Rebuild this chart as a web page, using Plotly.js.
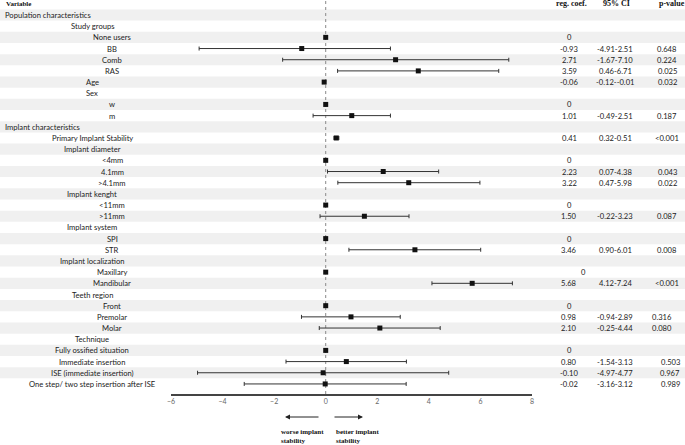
<!DOCTYPE html>
<html><head><meta charset="utf-8">
<script src="https://cdn.plot.ly/plotly-3.0.1.min.js"></script>
<style>html,body{margin:0;padding:0;background:#fff}#chart{width:685px;height:445px}</style>
</head><body><div id="chart"></div>
<script>
const rowLabels = ["Population characteristics","Study groups","None users","BB","Comb","RAS","Age","Sex","w","m","Implant characteristics","Primary Implant Stability","Implant diameter","<4mm","4.1mm",">4.1mm","Implant kenght","<11mm",">11mm","Implant system","SPI","STR","Implant localization","Maxillary","Mandibular","Teeth region","Front","Premolar","Molar","Technique","Fully ossified situation","Immediate insertion","ISE (immediate insertion)","One step/ two step insertion after ISE"];
const rowLevels = [1,2,3,3,3,3,2,2,3,3,1,2,2,3,3,3,2,3,3,2,3,3,2,3,3,2,3,3,3,2,2,2,2,2];
const regCoef = [null,null,0,-0.93,2.71,3.59,-0.06,null,0,1.01,null,0.41,null,0,2.23,3.22,null,0,1.50,null,0,3.46,null,0,5.68,null,0,0.98,2.10,null,0,0.80,-0.10,-0.02];
const ciLow  = [null,null,null,-4.91,-1.67,0.46,-0.12,null,null,-0.49,null,0.32,null,null,0.07,0.47,null,null,-0.22,null,null,0.90,null,null,4.12,null,null,-0.94,-0.25,null,null,-1.54,-4.97,-3.16];
const ciHigh = [null,null,null,2.51,7.10,6.71,-0.01,null,null,2.51,null,0.51,null,null,4.38,5.98,null,null,3.23,null,null,6.01,null,null,7.24,null,null,2.89,4.44,null,null,3.13,4.77,3.12];
const pValues = ["","","","0.648","0.224","0.025","0.032","","","0.187","","<0.001","","","0.043","0.022","","","0.087","","","0.008","","","<0.001","","","0.316","0.080","","","0.503","0.967","0.989"];
const xTicks = [-6,-4,-2,0,2,4,6,8];
const colHeaders = ["reg. coef.","95% CI","p-value"];

const W = 685, H = 445;
const rowIdx = rowLabels.map((_, i) => i + 1);
const pts = rowIdx.map((r, i) => regCoef[i] === null ? null : r);

const shapes = [];
rowIdx.forEach((r, i) => {
  if (r % 2 === 1) shapes.push({type:'rect', layer:'below', xref:'paper', x0:0, x1:1, yref:'y', y0:r-0.5, y1:r+0.5, fillcolor:'#f0f0f0', line:{width:0}});
});
shapes.push({type:'line', layer:'below', xref:'x', x0:0, x1:0, yref:'y', y0:-0.25, y1:34.9, line:{color:'#888', width:1, dash:'dot'}});

const ann = [];
const labFont = {family:'Lato, "Open Sans", sans-serif', size:7.6, color:'#222'};
rowLabels.forEach((t, i) => {
  const r = i + 1, lv = rowLevels[i];
  if (lv === 1) ann.push({xref:'paper', x:3/W, xanchor:'left', yref:'y', y:r, text:t, showarrow:false, font:labFont});
  else ann.push({xref:'paper', x:(lv === 2 ? 92 : 112)/W, xanchor:'center', yref:'y', y:r, text:t, showarrow:false, font:labFont});
  if (regCoef[i] !== null) {
    const v = regCoef[i];
    const isRef = ciLow[i] === null;
    const cx = (t === 'Maxillary') ? 583 : 569;
    ann.push({xref:'paper', x:cx/W, xanchor:'center', yref:'y', y:r, text: isRef ? '0' : v.toFixed(2), showarrow:false, font:labFont});
    if (!isRef) {
      ann.push({xref:'paper', x:615/W, xanchor:'center', yref:'y', y:r, text: ciLow[i].toFixed(2) + '-' + ciHigh[i].toFixed(2), showarrow:false, font:labFont});
    }
  }
  if (pValues[i]) {
    let px = 667, xa = 'center';
    if (r >= 32) { px = 682; xa = 'right'; }
    else if (r === 28 || r === 29) px = 662;
    ann.push({xref:'paper', x:px/W, xanchor:xa, yref:'y', y:r, text:pValues[i], showarrow:false, font:labFont});
  }
});
ann.push({xref:'paper', x:4/W, xanchor:'left', yref:'y', y:0, text:'<b>Variable</b>', showarrow:false, font:{family:'"Liberation Serif", serif', size:7, color:'#111'}});
[571, 616, 672].forEach((cx, k) => ann.push({xref:'paper', x:cx/W, xanchor:'center', yref:'y', y:0, text:'<b>' + colHeaders[k] + '</b>', showarrow:false, font:{family:'"Liberation Serif", serif', size:8, color:'#111'}}));

// direction arrows
ann.push({xref:'paper', yref:'paper', x:285/W, y:(H-417)/H, axref:'pixel', ayref:'pixel', ax:35, ay:0, text:'', showarrow:true, arrowhead:2, arrowsize:1, arrowwidth:1, arrowcolor:'#222'});
ann.push({xref:'paper', yref:'paper', x:363/W, y:(H-417)/H, axref:'pixel', ayref:'pixel', ax:-30, ay:0, text:'', showarrow:true, arrowhead:2, arrowsize:1, arrowwidth:1, arrowcolor:'#222'});
const smallSerif = {family:'"Liberation Serif", serif', size:7, color:'#111'};
ann.push({xref:'paper', yref:'paper', x:279/W, y:(H-436)/H, xanchor:'left', yanchor:'middle', align:'left', text:'<b>worse implant<br>stability</b>', showarrow:false, font:smallSerif});
ann.push({xref:'paper', yref:'paper', x:334/W, y:(H-436)/H, xanchor:'left', yanchor:'middle', align:'left', text:'<b>better implant<br>stability</b>', showarrow:false, font:smallSerif});

const trace = {
  type:'scatter', mode:'markers', x:regCoef, y:pts,
  marker:{symbol:'square', size:5, color:'#111'},
  error_x:{type:'data', symmetric:false,
    array: regCoef.map((v, i) => ciHigh[i] === null ? null : ciHigh[i] - v),
    arrayminus: regCoef.map((v, i) => ciLow[i] === null ? null : v - ciLow[i]),
    color:'#333', thickness:1, width:2},
  hoverinfo:'skip', cliponaxis:false
};

const layout = {
  width:W, height:H, margin:{l:0, r:0, t:0, b:0},
  paper_bgcolor:'#fff', plot_bgcolor:'rgba(0,0,0,0)', showlegend:false,
  xaxis:{domain:[171/W, 532/W], range:[-6, 8], tickvals:xTicks, ticks:'', showline:true, linecolor:'#444', linewidth:1.5,
    showgrid:false, zeroline:false, tickfont:{family:'Lato, sans-serif', size:7, color:'#666'}, fixedrange:true},
  yaxis:{domain:[(H-394)/H, 1], range:[34.9, -0.342], visible:false, showgrid:false, zeroline:false, fixedrange:true},
  shapes:shapes, annotations:ann
};
Plotly.newPlot('chart', [trace], layout, {displayModeBar:false, staticPlot:true});
</script></body></html>
